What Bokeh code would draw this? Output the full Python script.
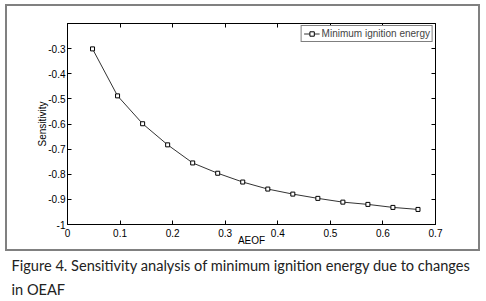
from bokeh.plotting import figure
from bokeh.models import (LinearAxis, FixedTicker, Range1d, Title, InlineStyleSheet)
from bokeh.embed import file_html
from bokeh.resources import INLINE

# ---- data ----
aeof = [0.0476, 0.0952, 0.1429, 0.1905, 0.2381, 0.2857, 0.3333,
        0.3810, 0.4286, 0.4762, 0.5238, 0.5714, 0.6190, 0.6667]
sensitivity = [-0.301, -0.488, -0.599, -0.683, -0.755, -0.796, -0.831,
               -0.859, -0.879, -0.896, -0.911, -0.920, -0.932, -0.940]
series_name = "Minimum ignition energy"
x_ticks = [0, 0.1, 0.2, 0.3, 0.4, 0.5, 0.6, 0.7]
x_tick_labels = ["0", "0.1", "0.2", "0.3", "0.4", "0.5", "0.6", "0.7"]
y_ticks = [-1, -0.9, -0.8, -0.7, -0.6, -0.5, -0.4, -0.3]
y_tick_labels = ["-1", "-0.9", "-0.8", "-0.7", "-0.6", "-0.5", "-0.4", "-0.3"]
x_title = "AEOF"
y_title = "Sensitivity"
caption_1 = "Figure 4. Sensitivity analysis of minimum ignition energy due to changes"
caption_2 = "in OEAF"

FONT = "Liberation Sans"

frame_css = InlineStyleSheet(css="""
:host { position: relative; }
:host::after {
  content: ""; position: absolute; left: 5px; top: 4px;
  width: 471px; height: 243px; border: 2px solid #808080;
  pointer-events: none; z-index: 10;
}
""")

p = figure(width=486, height=301, output_backend="svg", toolbar_location=None,
           x_range=Range1d(0, 0.7), y_range=Range1d(-1, -0.2),
           min_border_left=67, min_border_right=51, min_border_top=23,
           min_border_bottom=77, x_axis_location=None, y_axis_location=None,
           stylesheets=[frame_css])
p.grid.visible = False
p.outline_line_color = "black"
p.outline_line_width = 1
p.background_fill_color = "white"
p.border_fill_color = "white"


def style_axis(ax, ticks, labels, show):
    ax.ticker = FixedTicker(ticks=ticks)
    ax.major_label_overrides = {t: l for t, l in zip(ticks, labels)}
    ax.major_tick_in = 4
    ax.major_tick_out = 0
    ax.minor_tick_line_color = None
    ax.axis_line_color = "black"
    ax.major_tick_line_color = "black"
    ax.major_label_text_font = FONT
    ax.major_label_text_font_size = "10px"
    ax.major_label_text_color = "black" if show else None
    ax.axis_label_text_font = FONT
    ax.axis_label_text_font_size = "10px"
    ax.axis_label_text_font_style = "normal"
    ax.axis_label_text_color = "black"


xb = LinearAxis(axis_label=x_title)
style_axis(xb, x_ticks, x_tick_labels, True)
xb.major_label_standoff = 4
xb.axis_label_standoff = -5
p.add_layout(xb, "below")

yl = LinearAxis(axis_label=y_title)
style_axis(yl, y_ticks, y_tick_labels, True)
yl.major_label_standoff = 2
yl.axis_label_standoff = -3
p.add_layout(yl, "left")

xt = LinearAxis()
style_axis(xt, x_ticks, x_tick_labels, False)
p.add_layout(xt, "above")

yr = LinearAxis()
style_axis(yr, y_ticks, y_tick_labels, False)
p.add_layout(yr, "right")

p.line(aeof, sensitivity, line_color="#333333", line_width=1, legend_label=series_name)
p.scatter(aeof, sensitivity, marker="square", size=4, line_color="black",
          fill_color="white", line_width=1, legend_label=series_name)

lg = p.legend[0]
lg.location = "top_right"
lg.margin = 2
lg.padding = 2
lg.spacing = 0
lg.glyph_width = 16
lg.glyph_height = 11
lg.label_height = 11
lg.label_standoff = 2
lg.label_text_font = FONT
lg.label_text_font_size = "10px"
lg.border_line_color = "black"
lg.border_line_width = 1
lg.background_fill_alpha = 1

# caption lines below the chart
for txt, so in [(caption_1, 12), (caption_2, -2)]:
    p.add_layout(Title(text=txt, align="left", offset=-56, standoff=so,
                       text_font="Lato", text_font_size="14.6px",
                       text_font_style="normal", text_color="#222222"), "below")

open("out.html", "w").write(file_html(p, INLINE))
